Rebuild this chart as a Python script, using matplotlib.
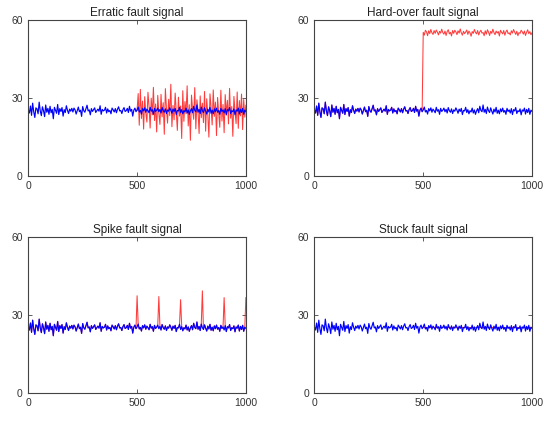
import matplotlib.pyplot as plt
import numpy as np

# sample positions (every 5 samples, 0..1000)
x = np.arange(0, 1001, 5)

# normal sensor signal (blue)
normal = [
    25.3, 24.1, 26.8, 23.2, 27.9, 24.6, 22.4, 26.1, 25.7, 23.8, 28.3, 24.9, 23.1, 26.5, 25.0, 22.7, 27.2, 24.4, 25.9, 23.6,
    26.7, 24.2, 25.5, 21.9, 26.3, 25.1, 24.0, 27.4, 23.5, 25.8, 24.7, 26.2, 22.9, 25.4, 24.3, 26.9, 25.2, 23.9, 25.6, 24.8,
    25.9, 24.5, 26.0, 25.3, 23.7, 25.1, 26.4, 24.6, 25.2, 22.8, 26.6, 25.0, 24.4, 25.7, 27.1, 24.9, 25.3, 23.4, 25.8, 24.7,
    25.4, 26.1, 24.3, 25.0, 25.6, 24.8, 26.9, 23.6, 25.5, 24.9, 25.2, 26.3, 24.1, 25.7, 24.6, 25.1, 23.8, 26.0, 25.3, 24.5,
    25.8, 24.2, 25.6, 26.5, 24.9, 25.1, 23.9, 25.4, 26.2, 24.7, 25.0, 25.9, 24.3, 26.7, 24.8, 25.5, 22.9, 25.2, 26.0, 24.6,
    25.3, 26.4, 24.5, 25.1, 23.7, 25.8, 24.9, 26.1, 24.4, 25.6, 25.0, 24.2, 26.3, 24.8, 25.4, 23.6, 25.9, 24.7, 25.2, 26.0,
    24.6, 25.5, 24.1, 26.2, 25.0, 24.4, 25.7, 23.9, 25.3, 24.8, 26.1, 25.2, 24.0, 25.6, 24.7, 25.9, 23.5, 25.1, 24.9, 26.3,
    24.3, 25.4, 23.8, 25.0, 24.5, 26.0, 24.1, 25.3, 23.6, 24.9, 25.8, 24.2, 26.7, 25.1, 24.6, 27.2, 24.4, 25.5, 23.9, 26.4,
    25.0, 24.3, 26.1, 24.8, 23.7, 25.6, 24.5, 26.3, 24.0, 25.2, 23.8, 25.7, 24.6, 26.0, 24.4, 25.1, 23.6, 25.9, 24.7, 25.3,
    24.1, 25.8, 23.5, 25.4, 24.9, 26.2, 23.9, 25.0, 24.6, 25.7, 23.4, 25.3, 24.8, 26.0, 23.7, 25.5, 24.3, 25.9, 23.6, 25.2,
    24.7,
]

# erratic fault (red), samples 500..1000
erratic = [
    25.1, 31.6, 19.4, 33.2, 22.0, 28.7, 17.9, 30.4, 24.3, 20.6, 32.1, 26.5, 18.3, 29.8, 23.4, 34.0, 21.2, 27.6, 16.8, 30.9,
    24.0, 19.7, 31.3, 22.6, 28.1, 15.9, 33.5, 25.7, 20.2, 29.4, 23.1, 35.2, 18.8, 27.0, 21.5, 31.8, 24.6, 17.4, 30.2, 22.9,
    26.8, 14.3, 32.7, 20.9, 28.5, 23.8, 34.6, 19.1, 27.3, 13.6, 31.0, 25.4, 21.7, 33.9, 18.0, 29.2, 24.9, 16.2, 30.7, 22.3,
    27.9, 20.4, 32.4, 17.1, 29.6, 23.6, 14.8, 31.5, 26.1, 19.5, 33.0, 22.8, 28.3, 15.4, 30.1, 24.2, 18.6, 32.9, 21.0, 27.4,
    16.5, 31.2, 23.3, 29.0, 19.9, 33.6, 22.1, 26.6, 15.1, 30.5, 24.7, 20.0, 32.2, 18.2, 28.9, 23.0, 31.4, 17.7, 29.3, 22.5,
    27.1,
]

# hard-over fault (red), samples 500..1000
hardover = [
    55.2, 54.1, 56.0, 55.4, 53.9, 55.8, 54.7, 56.3, 55.0, 54.4, 55.9, 54.8, 56.1, 55.3, 54.2, 55.6, 54.9, 56.4, 55.1, 54.5,
    55.7, 54.0, 55.5, 56.2, 54.6, 55.2, 53.8, 55.9, 54.8, 56.0, 55.4, 54.3, 55.8, 54.9, 56.5, 55.0, 54.1, 55.6, 54.7, 55.3,
    56.1, 54.4, 55.7, 55.0, 53.7, 55.5, 54.8, 56.3, 55.2, 54.6, 55.9, 54.2, 55.4, 56.0, 54.9, 55.1, 53.9, 55.8, 54.5, 56.2,
    55.3, 54.0, 55.6, 54.8, 56.4, 55.1, 54.3, 55.7, 54.9, 55.5, 53.8, 56.0, 55.2, 54.6, 55.9, 54.1, 55.4, 56.1, 54.7, 55.0,
    54.2, 55.8, 54.9, 56.3, 55.3, 54.4, 55.6, 53.9, 55.1, 54.8, 56.0, 55.4, 54.5, 55.7, 54.0, 55.2, 56.2, 54.7, 55.5, 54.3,
    55.0,
]

# spike fault: spike positions and peak values
spike_x = [500, 600, 700, 800, 900, 1000]
spike_y = [37.3, 37.0, 35.8, 39.2, 36.6, 36.6]

# stuck fault: constant value from sample 500
stuck_value = 25.3
fault_start = 500

titles = ['Erratic fault signal', 'Hard-over fault signal', 'Spike fault signal', 'Stuck fault signal']

plt.rcParams['font.family'] = ['Liberation Sans', 'DejaVu Sans']

normal = np.array(normal)
k0 = int(np.searchsorted(x, fault_start))

faults = []
# erratic
faults.append((x[k0:], np.array(erratic)))
# hard-over: normal until just before fault start, then jump
faults.append((x, np.concatenate([normal[:k0], hardover])))
# spike
sp = normal.copy()
for sx, sy in zip(spike_x, spike_y):
    sp[np.searchsorted(x, sx)] = sy
faults.append((x, sp))
# stuck
faults.append((x[k0:], np.full(len(x) - k0, stuck_value)))

fig = plt.figure(figsize=(5.44, 4.23), dpi=100)
lefts = [0.052, 0.578]
bottoms = [0.585, 0.072]
w, h = 0.400, 0.368

for i in range(4):
    ax = fig.add_axes([lefts[i % 2], bottoms[i // 2], w, h])
    fx, fy = faults[i]
    ax.plot(fx, fy, color='#ff1a1a', lw=0.75, alpha=0.85)
    ax.plot(x, normal, color='#0000ff', lw=0.85)
    ax.set_xlim(0, 1000)
    ax.set_ylim(0, 60)
    ax.set_xticks([0, 500, 1000])
    ax.set_yticks([0, 30, 60])
    ax.tick_params(direction='in', top=True, right=True, length=3, width=0.6,
                   labelsize=7.5, labelcolor='#333333', colors='#444444', pad=4)
    for s in ax.spines.values():
        s.set_color('#444444')
        s.set_linewidth(0.8)
    ax.set_title(titles[i], fontsize=8.5, color='#222222', pad=3)

plt.savefig('out.png', dpi=100)
